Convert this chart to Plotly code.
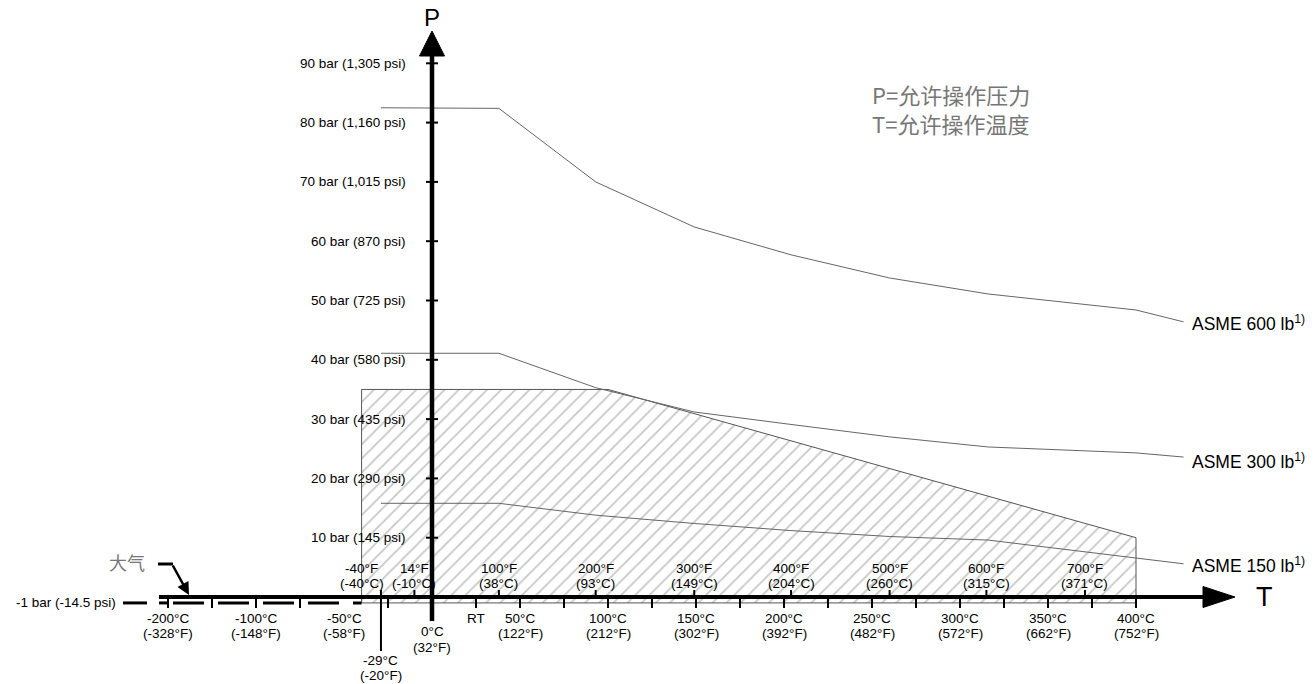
import plotly.graph_objects as go

# ---------------- data ----------------
# ASME pressure/temperature ratings (temperature in °C, pressure in bar)
t600 = [-29, 38, 93, 149, 204, 260, 316, 400, 427]
p600 = [82.5, 82.4, 70.0, 62.4, 57.7, 53.8, 51.1, 48.4, 46.4]

t300 = [-29, 38, 93, 149, 204, 260, 316, 400, 427]
p300 = [41.1, 41.1, 35.3, 31.2, 29.1, 27.0, 25.3, 24.3, 23.6]

t150 = [-29, 38, 93, 149, 204, 260, 316, 427]
p150 = [15.8, 15.8, 13.8, 12.4, 11.2, 10.2, 9.6, 5.6]

# permitted operating area (hatched)
area_t = [-40, 100, 400, 400, -40, -40]
area_p = [35, 35, 10, -1, -1, 35]

# pressure axis ticks
p_ticks = [10, 20, 30, 40, 50, 60, 70, 80, 90]
p_labels = ["10 bar (145 psi)", "20 bar (290 psi)", "30 bar (435 psi)",
            "40 bar (580 psi)", "50 bar (725 psi)", "60 bar (870 psi)",
            "70 bar (1,015 psi)", "80 bar (1,160 psi)", "90 bar (1,305 psi)"]

# temperature axis (°C) – major ticks with °C labels below
c_major = [50, 100, 150, 200, 250, 300, 350, 400]
c_major_labels = ["50°C<br>(122°F)", "100°C<br>(212°F)", "150°C<br>(302°F)",
                  "200°C<br>(392°F)", "250°C<br>(482°F)", "300°C<br>(572°F)",
                  "350°C<br>(662°F)", "400°C<br>(752°F)"]
c_minor = [-25, 25, 75, 125, 175, 225, 275, 325, 375]
# compressed (broken) low-temperature section: display positions
low_ticks = [-150, -125, -100, -75]
low_label_pos = [-150, -100, -50]
low_labels = ["-200°C<br>(-328°F)", "-100°C<br>(-148°F)", "-50°C<br>(-58°F)"]
# Fahrenheit marks above the axis (positions in °C)
f_pos = [-40, -10, 38, 93, 149, 204, 260, 315, 371]
f_labels = ["-40°F<br>(-40°C)", "14°F<br>(-10°C)", "100°F<br>(38°C)",
            "200°F<br>(93°C)", "300°F<br>(149°C)", "400°F<br>(204°C)",
            "500°F<br>(260°C)", "600°F<br>(315°C)", "700°F<br>(371°C)"]
series_names = ["ASME 600 lb<sup>1)</sup>", "ASME 300 lb<sup>1)</sup>", "ASME 150 lb<sup>1)</sup>"]

# ---------------- geometry helpers (page pixel -> data) ----------------
W, H = 1315, 684
X0, SX = 432.0, 1.76   # px of 0°C, px per °C
Y0, SY = 597.0, 5.93   # px of 0 bar, px per bar
def tx(px): return (px - X0) / SX
def ty(py): return (Y0 - py) / SY
dx = lambda n: n / SX
dy = lambda n: n / SY

FONT = "Liberation Sans, Arial, sans-serif"
FS = 13.5
fig = go.Figure()
NOH = dict(hoverinfo="skip", showlegend=False)

# hatched area
fig.add_trace(go.Scatter(x=area_t, y=area_p, mode="lines", fill="toself",
                         line=dict(color="#555", width=1),
                         fillcolor="rgba(0,0,0,0)",
                         fillpattern=dict(shape="/", fgcolor="#8f8f8f",
                                          bgcolor="rgba(255,255,255,0)",
                                          size=10, solidity=0.18), **NOH))

# rating curves
for t, p in [(t600, p600), (t300, p300), (t150, p150)]:
    fig.add_trace(go.Scatter(x=t, y=p, mode="lines",
                             line=dict(color="#666", width=1), **NOH))

# -1 bar line (vacuum / atmosphere)
fig.add_trace(go.Scatter(x=[tx(123), tx(147)], y=[-1, -1], mode="lines",
                         line=dict(color="black", width=3), **NOH))
fig.add_trace(go.Scatter(x=[tx(159), tx(168)], y=[-1, -1], mode="lines",
                         line=dict(color="black", width=3), **NOH))
fig.add_trace(go.Scatter(x=[tx(173), -40], y=[-1, -1], mode="lines",
                         line=dict(color="black", width=3, dash="31px,14px"), **NOH))

# tick segments
def seg(xs, y0, y1):
    X, Y = [], []
    for x in xs:
        X += [x, x, None]; Y += [y0, y1, None]
    return X, Y
X, Y = seg(c_major + c_minor + low_ticks, 0, -dy(11))
fig.add_trace(go.Scatter(x=X, y=Y, mode="lines", line=dict(color="black", width=2), **NOH))
X, Y = seg(f_pos[1:], dy(7), 0)
fig.add_trace(go.Scatter(x=X, y=Y, mode="lines", line=dict(color="black", width=2), **NOH))
# -29°C long marker
fig.add_trace(go.Scatter(x=[-29, -29], y=[dy(7), ty(651)], mode="lines",
                         line=dict(color="black", width=2), **NOH))
# pressure ticks
PX, PY = [], []
for p in p_ticks:
    PX += [-dx(6), dx(6), None]; PY += [p, p, None]
fig.add_trace(go.Scatter(x=PX, y=PY, mode="lines", line=dict(color="black", width=2), **NOH))

# T axis
fig.add_trace(go.Scatter(x=[tx(159), tx(1205)], y=[0, 0], mode="lines",
                         line=dict(color="black", width=4), **NOH))
# P axis
fig.add_trace(go.Scatter(x=[0, 0], y=[ty(621), ty(54)], mode="lines",
                         line=dict(color="black", width=4.5), **NOH))
# arrowheads
fig.add_trace(go.Scatter(x=[tx(1203), tx(1235), tx(1203), tx(1203)],
                         y=[dy(10.5), 0, -dy(10.5), dy(10.5)], mode="lines",
                         fill="toself", fillcolor="black", line=dict(color="black", width=1), **NOH))
fig.add_trace(go.Scatter(x=[-dx(12.5), 0, dx(12.5), -dx(12.5)],
                         y=[ty(56), ty(31), ty(56), ty(56)], mode="lines",
                         fill="toself", fillcolor="black", line=dict(color="black", width=1), **NOH))

ann = []
def A(x, y, text, size=FS, color="black", xanchor="center", yanchor="middle", family=FONT):
    ann.append(dict(x=x, y=y, text=text, showarrow=False, xanchor=xanchor, yanchor=yanchor,
                    font=dict(size=size, color=color, family=family), align="center"))

def A2(x, y1px, y2px, label):
    l1, l2 = label.split("<br>")
    A(x, ty(y1px), l1)
    A(x, ty(y2px), l2)

for p, l in zip(p_ticks, p_labels):
    A(tx(408), p, l, xanchor="right")
A(tx(118), -1, "-1 bar (-14.5 psi)", xanchor="right")
for c, l in zip(c_major, c_major_labels):
    A2(c, 618, 633, l)
for c, l in zip(low_label_pos, low_labels):
    A2(c, 618, 633, l)
A(25, ty(618), "RT")
A2(0, 631, 647, "0°C<br>(32°F)")
A2(-29, 660, 675, "-29°C<br>(-20°F)")
for c, l in zip(f_pos, f_labels):
    A2(c, 568, 583, l)

# series labels
A(tx(1190), p600[-1] + dy(-1), series_names[0], size=17.5, xanchor="left")
A(tx(1190), p300[-1] - dy(4), series_names[1], size=17.5, xanchor="left")
A(tx(1190), p150[-1] - dy(1), series_names[2], size=17.5, xanchor="left")

# axis names
A(0, ty(17), "P", size=24)
A(tx(1264), 0, "T", size=27)

# note text
CJK = "Noto Sans CJK SC, sans-serif"
A(tx(870), ty(94), "P=允许操作压力", size=22, color="#777", xanchor="left", family=CJK)
A(tx(870), ty(123), "T=允许操作温度", size=22, color="#777", xanchor="left", family=CJK)

# atmosphere label with arrow
A(tx(127), ty(562), "大气", size=18, color="#777", family=CJK)
fig.add_trace(go.Scatter(x=[tx(158), tx(173)], y=[ty(564), ty(564)], mode="lines",
                         line=dict(color="black", width=3), **NOH))
ann.append(dict(x=tx(189), y=ty(595), ax=tx(172), ay=ty(564), xref="x", yref="y",
                axref="x", ayref="y", text="", showarrow=True, arrowhead=2,
                arrowsize=1, arrowwidth=2.5, arrowcolor="black"))

fig.update_layout(
    width=W, height=H, margin=dict(l=0, r=0, t=0, b=0),
    paper_bgcolor="white", plot_bgcolor="white", showlegend=False,
    xaxis=dict(range=[tx(0), tx(W)], visible=False, fixedrange=True),
    yaxis=dict(range=[ty(H), ty(0)], visible=False, fixedrange=True),
    annotations=ann,
)
fig.write_html("out.html", config={"displayModeBar": False},
               post_script="document.body.style.margin='0';document.body.style.overflow='hidden';")
